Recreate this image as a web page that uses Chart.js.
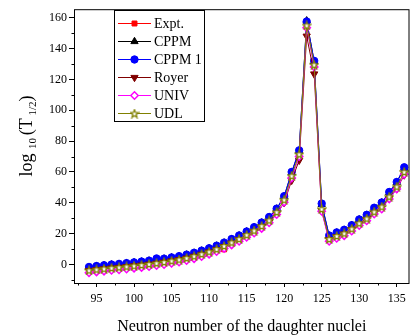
<!DOCTYPE html>
<html>
<head>
<meta charset="utf-8">
<script src="https://cdn.jsdelivr.net/npm/chart.js@4.4.0/dist/chart.umd.min.js"></script>
<style>
  html, body { margin: 0; padding: 0; background: #fff; }
</style>
</head>
<body>
<canvas id="chartHalfLife" width="415" height="336"></canvas>
<script>
// Neutron number of the daughter nuclei
const neutrons = [94,95,96,97,98,99,100,101,102,103,104,105,106,107,108,109,110,111,112,113,114,115,
                  116,117,118,119,120,121,122,123,124,125,126,127,128,129,130,131,132,133,134,135,136];

// log10(T1/2) per model
const cppm = [-1.8,-1.2,-0.7,-0.2,0.2,0.7,1.2,1.7,2.3,3.2,3.6,4.4,5.2,6.2,7.4,8.8,10.3,12.0,14.0,16.3,18.6,21.2,
              24.0,27.0,30.6,36.0,44.0,59.5,73.5,158.0,131.5,39.0,18.5,20.5,22.3,25.3,29.0,32.0,36.5,40.0,46.5,53.2,62.5];
const cppm1 = [-1.6,-1.0,-0.5,0.0,0.4,0.9,1.4,1.9,2.5,3.9,3.8,4.6,5.4,6.4,7.6,9.0,10.5,12.2,14.2,16.5,18.8,21.4,
               24.2,27.2,30.8,36.2,44.3,60.0,74.0,157.5,132.0,39.5,18.8,20.8,22.5,25.5,29.2,32.2,36.8,40.2,47.0,53.5,63.0];
const royer = [-3.9,-3.3,-2.8,-2.3,-1.9,-1.4,-0.9,-0.4,0.2,0.8,1.5,2.3,3.1,4.1,5.3,6.6,8.1,9.7,11.6,13.8,16.0,18.5,
               21.2,24.2,27.6,32.8,40.0,54.5,67.5,148.0,123.5,34.8,16.0,18.0,19.7,22.6,26.0,29.0,33.2,36.5,42.8,49.0,58.0];
const univ = [-5.4,-4.8,-4.3,-3.8,-3.4,-2.9,-2.4,-1.9,-1.3,-0.7,0.0,0.8,1.6,2.6,3.8,5.2,6.7,8.4,10.4,12.7,15.0,17.6,
              20.4,23.4,27.0,32.4,40.4,56.0,70.0,153.5,128.0,34.5,15.0,17.0,18.7,21.7,25.3,28.3,32.7,36.0,42.5,49.0,58.5];
const udl = [-3.8,-3.2,-2.7,-2.2,-1.8,-1.3,-0.8,-0.3,0.3,0.9,1.6,2.4,3.2,4.2,5.4,6.8,8.3,10.0,12.0,14.3,16.6,19.2,
             22.0,25.0,28.6,34.0,42.0,57.5,71.5,155.0,129.5,36.0,16.5,18.5,20.2,23.2,26.8,29.8,34.2,37.5,44.0,50.5,60.0];

// experimental point (only one measured)
const exptN = [112];
const exptVal = [9.8];

// axis ticks
const xTicks = [95,100,105,110,115,120,125,130,135];
const xMinor = [92.5,97.5,102.5,107.5,112.5,117.5,122.5,127.5,132.5];
const yTicks = [0,20,40,60,80,100,120,140,160];
const yMinor = [-10,10,30,50,70,90,110,130,150];

const SERIF = "'Liberation Serif', 'Times New Roman', serif";

function toPoints(xs, ys) {
    return xs.map((x, i) => ({ x: x, y: ys[i] }));
}

// open star marker for UDL
function makeStar() {
    const c = document.createElement('canvas');
    c.width = 10; c.height = 10;
    const g = c.getContext('2d');
    g.beginPath();
    for (let i = 0; i < 10; i++) {
        const r = (i % 2) ? 1.8 : 4.2;
        const a = -Math.PI / 2 + i * Math.PI / 5;
        const px = 5 + r * Math.cos(a), py = 5.4 + r * Math.sin(a);
        if (i === 0) g.moveTo(px, py); else g.lineTo(px, py);
    }
    g.closePath();
    g.fillStyle = '#ffffff';
    g.fill();
    g.strokeStyle = '#808000';
    g.lineWidth = 1.3;
    g.stroke();
    return c;
}
const starImg = makeStar();

const series = [
    { label: 'Expt.',  data: toPoints(exptN, exptVal), color: '#ff0000', fill: '#ff0000', style: 'rect', radius: 3.5, rot: 0, order: 5 },
    { label: 'CPPM',   data: toPoints(neutrons, cppm),  color: '#000000', fill: '#000000', style: 'triangle', radius: 4.2, rot: 0, order: 4 },
    { label: 'CPPM 1', data: toPoints(neutrons, cppm1), color: '#0000ff', fill: '#0000ff', style: 'circle', radius: 3.7, rot: 0, order: 3 },
    { label: 'Royer',  data: toPoints(neutrons, royer), color: '#800000', fill: '#800000', style: 'triangle', radius: 4.2, rot: 180, order: 2 },
    { label: 'UNIV',   data: toPoints(neutrons, univ),  color: '#ff00ff', fill: '#ffffff', style: 'rectRot', radius: 3.7, rot: 0, order: 1 },
    { label: 'UDL',    data: toPoints(neutrons, udl),   color: '#808000', fill: '#ffffff', style: starImg, radius: 4, rot: 0, order: 0 }
];

// frame, minor ticks, axis titles and boxed legend
const decorations = {
    id: 'decorations',
    afterDraw(chart) {
        const { ctx, chartArea: a, scales: { x, y } } = chart;
        ctx.save();
        ctx.strokeStyle = '#000';
        ctx.lineWidth = 1;
        ctx.strokeRect(a.left + 0.5, a.top + 0.5, a.right - a.left - 1, a.bottom - a.top);

        ctx.beginPath();
        xMinor.forEach(v => {
            const px = Math.round(x.getPixelForValue(v)) + 0.5;
            if (px < a.left || px > a.right) return;
            ctx.moveTo(px, a.bottom); ctx.lineTo(px, a.bottom + 2.5);
        });
        yMinor.forEach(v => {
            const py = Math.round(y.getPixelForValue(v)) + 0.5;
            if (py < a.top || py > a.bottom) return;
            ctx.moveTo(a.left, py); ctx.lineTo(a.left - 2.5, py);
        });
        ctx.stroke();

        // x title
        ctx.fillStyle = '#000';
        ctx.font = '16px ' + SERIF;
        ctx.textAlign = 'center';
        ctx.textBaseline = 'alphabetic';
        ctx.fillText('Neutron number of the daughter nuclei', (a.left + a.right) / 2, 331);

        // y title  log10(T1/2)
        ctx.translate(32, 136);
        ctx.rotate(-Math.PI / 2);
        const big = '18px ' + SERIF, small = '11px ' + SERIF;
        const parts = [
            { t: 'log', f: big, dy: 0 },
            { t: ' ', f: big, dy: 0 },
            { t: '10', f: small, dy: 4 },
            { t: ' ', f: small, dy: 0 },
            { t: '(T', f: big, dy: 0 },
            { t: ' 1/2', f: small, dy: 4 },
            { t: ')', f: big, dy: 0 }
        ];
        let total = 0;
        parts.forEach(p => { ctx.font = p.f; p.w = ctx.measureText(p.t).width; total += p.w; });
        let cx = -total / 2;
        ctx.textAlign = 'left';
        parts.forEach(p => { ctx.font = p.f; ctx.fillText(p.t, cx, p.dy); cx += p.w; });
        ctx.restore();

        // legend
        ctx.save();
        ctx.strokeStyle = '#000';
        ctx.lineWidth = 1;
        ctx.strokeRect(114.5, 10.5, 90, 111);
        ctx.font = '14px ' + SERIF;
        ctx.textBaseline = 'middle';
        ctx.textAlign = 'left';
        series.forEach((s, i) => {
            const ly = 23.5 + i * 18;
            ctx.strokeStyle = s.color;
            ctx.lineWidth = 1;
            ctx.beginPath();
            ctx.moveTo(118, ly); ctx.lineTo(151, ly);
            ctx.stroke();
            ctx.fillStyle = s.fill;
            ctx.lineWidth = (s.fill === '#ffffff') ? 1.5 : 1;
            Chart.helpers.drawPoint(ctx, { pointStyle: s.style, radius: s.radius, rotation: s.rot, borderWidth: ctx.lineWidth }, 134.5, ly);
            ctx.fillStyle = '#000';
            ctx.fillText(s.label, 154, ly + 1);
        });
        ctx.restore();
    }
};

new Chart(document.getElementById('chartHalfLife').getContext('2d'), {
    type: 'line',
    data: {
        datasets: series.map(s => ({
            label: s.label,
            data: s.data,
            order: s.order,
            borderColor: s.color,
            backgroundColor: s.fill,
            borderWidth: 1,
            pointStyle: s.style,
            pointRadius: s.radius,
            pointRotation: s.rot,
            pointBorderWidth: (s.fill === '#ffffff') ? 1.5 : 1,
            pointBackgroundColor: s.fill,
            pointBorderColor: s.color,
            tension: 0
        }))
    },
    options: {
        responsive: false,
        animation: false,
        layout: { padding: { left: 0, right: 1, top: 7, bottom: 0 } },
        plugins: {
            legend: { display: false },
            tooltip: { enabled: false }
        },
        scales: {
            x: {
                type: 'linear',
                min: 92,
                max: 136.7,
                afterBuildTicks: s => { s.ticks = xTicks.map(v => ({ value: v })); },
                afterFit: s => { s.height = 53; },
                border: { display: false },
                grid: { drawOnChartArea: false, tickLength: 4, color: '#000', tickWidth: 1 },
                ticks: { color: '#000', padding: 5, font: { family: SERIF, size: 12 }, maxRotation: 0 }
            },
            y: {
                type: 'linear',
                min: -12,
                max: 165.5,
                afterBuildTicks: s => { s.ticks = yTicks.map(v => ({ value: v })); },
                afterFit: s => { s.width = 74; },
                border: { display: false },
                grid: { drawOnChartArea: false, tickLength: 5, color: '#000', tickWidth: 1 },
                ticks: { color: '#000', padding: 2, font: { family: SERIF, size: 12 } }
            }
        }
    },
    plugins: [decorations]
});
</script>
</body>
</html>
